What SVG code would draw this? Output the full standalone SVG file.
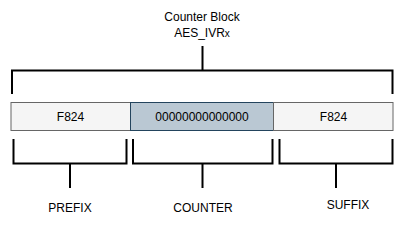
<svg xmlns="http://www.w3.org/2000/svg" width="405" height="234" viewBox="0 0 405 234">
<style>
text{font-family:"Liberation Sans",Arial,sans-serif;font-size:12px;fill:#000;text-anchor:middle}
.br{fill:none;stroke:#000;stroke-width:2}
.plain{fill:#f5f5f5;stroke:#666;stroke-width:1}
.ctr{fill:#bac8d3;stroke:#23445d;stroke-width:1}
</style>
<rect width="405" height="234" fill="#fff"/>
<g id="title"><text x="202" y="21">Counter Block</text><text x="202" y="37">AES_IVR<tspan font-size="10">x</tspan></text></g>
<g id="prefix-box"><rect class="plain" x="11" y="102.5" width="119.5" height="28"/><text x="70.5" y="121">F824</text></g>
<g id="counter-box"><rect class="ctr" x="130.5" y="102.5" width="143" height="28"/><text x="202" y="121">00000000000000</text></g>
<g id="suffix-box"><rect class="plain" x="273.5" y="102.5" width="119.5" height="28"/><text x="333.5" y="121">F824</text></g>
<g id="connectors">
<path class="br" d="M12 94V70.5H392.5V94M202.5 70.5V46"/>
<path class="br" d="M13.5 139V163.5H126.5V139M70 163.5V188"/>
<path class="br" d="M133 139V163.5H272.5V139M202.5 163.5V188"/>
<path class="br" d="M279.5 139V163.5H392.5V139M336 163.5V188"/>
</g>
<g id="prefix-label"><text x="70" y="212">PREFIX</text></g>
<g id="counter-label"><text x="203" y="212">COUNTER</text></g>
<g id="suffix-label"><text x="348" y="209">SUFFIX</text></g>
</svg>
